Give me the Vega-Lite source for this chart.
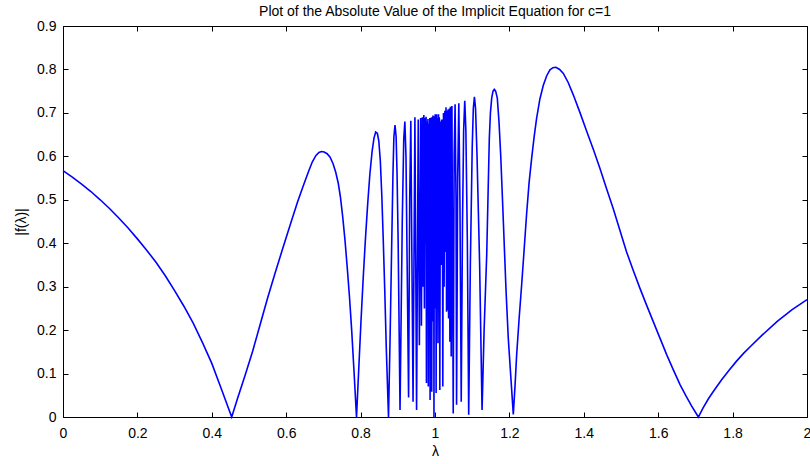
{
  "$schema": "https://vega.github.io/schema/vega-lite/v6.json",
  "width": 744,
  "height": 391,
  "autosize": {"type": "none"},
  "padding": {"left": 63, "top": 26, "right": 3, "bottom": 47},
  "background": "white",
  "title": {"text": "Plot of the Absolute Value of the Implicit Equation for c=1", "fontSize": 14, "fontWeight": "normal", "font": "Liberation Sans", "offset": 0, "color": "black", "anchor": "middle"},
  "data": {"values": [
    {"x": 0, "y": 0.567}, {"x": 0.025, "y": 0.552}, {"x": 0.05, "y": 0.536}, {"x": 0.075, "y": 0.519}, {"x": 0.1, "y": 0.5},
    {"x": 0.125, "y": 0.48}, {"x": 0.15, "y": 0.458}, {"x": 0.175, "y": 0.435}, {"x": 0.2, "y": 0.41}, {"x": 0.225, "y": 0.384},
    {"x": 0.25, "y": 0.356}, {"x": 0.275, "y": 0.325}, {"x": 0.3, "y": 0.291}, {"x": 0.325, "y": 0.255}, {"x": 0.35, "y": 0.216},
    {"x": 0.375, "y": 0.171}, {"x": 0.4, "y": 0.1235}, {"x": 0.425, "y": 0.066}, {"x": 0.4535, "y": 0},
    {"x": 0.47, "y": 0.045}, {"x": 0.49, "y": 0.097}, {"x": 0.51, "y": 0.152}, {"x": 0.53, "y": 0.213}, {"x": 0.55, "y": 0.274},
    {"x": 0.57, "y": 0.331}, {"x": 0.59, "y": 0.386}, {"x": 0.61, "y": 0.44}, {"x": 0.63, "y": 0.494}, {"x": 0.645, "y": 0.53},
    {"x": 0.66, "y": 0.565}, {"x": 0.67, "y": 0.587}, {"x": 0.68, "y": 0.602}, {"x": 0.688, "y": 0.609}, {"x": 0.695, "y": 0.611},
    {"x": 0.702, "y": 0.61}, {"x": 0.71, "y": 0.606}, {"x": 0.718, "y": 0.598}, {"x": 0.726, "y": 0.583}, {"x": 0.733, "y": 0.564},
    {"x": 0.74, "y": 0.538}, {"x": 0.746, "y": 0.505}, {"x": 0.752, "y": 0.46}, {"x": 0.758, "y": 0.407}, {"x": 0.764, "y": 0.345},
    {"x": 0.77, "y": 0.278}, {"x": 0.776, "y": 0.2}, {"x": 0.782, "y": 0.11}, {"x": 0.789, "y": 0},
    {"x": 0.795, "y": 0.11}, {"x": 0.801, "y": 0.22}, {"x": 0.807, "y": 0.32}, {"x": 0.813, "y": 0.41}, {"x": 0.819, "y": 0.49},
    {"x": 0.825, "y": 0.56}, {"x": 0.831, "y": 0.612}, {"x": 0.836, "y": 0.642}, {"x": 0.8405, "y": 0.656}, {"x": 0.845, "y": 0.653},
    {"x": 0.849, "y": 0.635}, {"x": 0.853, "y": 0.59}, {"x": 0.857, "y": 0.51}, {"x": 0.861, "y": 0.405}, {"x": 0.865, "y": 0.29},
    {"x": 0.869, "y": 0.16}, {"x": 0.875, "y": 0},
    {"x": 0.879, "y": 0.17}, {"x": 0.8835, "y": 0.392}, {"x": 0.887, "y": 0.56}, {"x": 0.8895, "y": 0.645}, {"x": 0.8925, "y": 0.672},
    {"x": 0.8955, "y": 0.645}, {"x": 0.898, "y": 0.56}, {"x": 0.901, "y": 0.4}, {"x": 0.906, "y": 0.016},
    {"x": 0.912, "y": 0.45}, {"x": 0.916, "y": 0.64}, {"x": 0.919, "y": 0.68},
    {"x": 0.922, "y": 0.6}, {"x": 0.929, "y": 0.045}, {"x": 0.932, "y": 0.5}, {"x": 0.935, "y": 0.682}, {"x": 0.941, "y": 0.035},
    {"x": 0.946, "y": 0.69}, {"x": 0.9505, "y": 0.016}, {"x": 0.955, "y": 0.685}, {"x": 0.958, "y": 0.165}, {"x": 0.9615, "y": 0.688},
    {"x": 0.9635, "y": 0.21}, {"x": 0.966, "y": 0.69}, {"x": 0.968, "y": 0.3}, {"x": 0.97, "y": 0.695}, {"x": 0.9715, "y": 0.25},
    {"x": 0.973, "y": 0.688}, {"x": 0.9745, "y": 0.4}, {"x": 0.976, "y": 0.691}, {"x": 0.977, "y": 0.078}, {"x": 0.9785, "y": 0.68},
    {"x": 0.9795, "y": 0.377}, {"x": 0.981, "y": 0.686}, {"x": 0.982, "y": 0.07}, {"x": 0.9835, "y": 0.675}, {"x": 0.9848, "y": 0.32},
    {"x": 0.986, "y": 0.688}, {"x": 0.9868, "y": 0.039}, {"x": 0.988, "y": 0.688}, {"x": 0.9893, "y": 0.28}, {"x": 0.9905, "y": 0.69},
    {"x": 0.9912, "y": 0.058}, {"x": 0.9925, "y": 0.682}, {"x": 0.9935, "y": 0.35}, {"x": 0.9945, "y": 0.694}, {"x": 0.9955, "y": 0.22},
    {"x": 0.9965, "y": 0.69}, {"x": 0.9972, "y": 0}, {"x": 0.9985, "y": 0.692}, {"x": 0.9995, "y": 0.3}, {"x": 1.0005, "y": 0.697},
    {"x": 1.0013, "y": 0.25}, {"x": 1.002, "y": 0.69}, {"x": 1.003, "y": 0.055}, {"x": 1.0045, "y": 0.697}, {"x": 1.0055, "y": 0.33},
    {"x": 1.0068, "y": 0.688}, {"x": 1.008, "y": 0.17}, {"x": 1.0095, "y": 0.697}, {"x": 1.0105, "y": 0.4}, {"x": 1.0115, "y": 0.69},
    {"x": 1.013, "y": 0.062}, {"x": 1.0145, "y": 0.68}, {"x": 1.016, "y": 0.35}, {"x": 1.0175, "y": 0.685}, {"x": 1.0185, "y": 0.388},
    {"x": 1.0195, "y": 0.685}, {"x": 1.021, "y": 0.07}, {"x": 1.0228, "y": 0.7}, {"x": 1.0245, "y": 0.3}, {"x": 1.0265, "y": 0.705},
    {"x": 1.028, "y": 0.38}, {"x": 1.0296, "y": 0.713}, {"x": 1.031, "y": 0.242}, {"x": 1.0325, "y": 0.705}, {"x": 1.0335, "y": 0.246},
    {"x": 1.035, "y": 0.708}, {"x": 1.0365, "y": 0.227}, {"x": 1.0385, "y": 0.71}, {"x": 1.04, "y": 0.173}, {"x": 1.0415, "y": 0.714},
    {"x": 1.0435, "y": 0.139}, {"x": 1.0455, "y": 0.716}, {"x": 1.049, "y": 0.008}, {"x": 1.0515, "y": 0.6}, {"x": 1.054, "y": 0.72},
    {"x": 1.0565, "y": 0.5}, {"x": 1.058, "y": 0.028}, {"x": 1.061, "y": 0.55}, {"x": 1.064, "y": 0.722}, {"x": 1.067, "y": 0.5},
    {"x": 1.0705, "y": 0.035}, {"x": 1.074, "y": 0.45}, {"x": 1.077, "y": 0.66}, {"x": 1.08, "y": 0.728}, {"x": 1.083, "y": 0.66},
    {"x": 1.087, "y": 0.4}, {"x": 1.0906, "y": 0.005}, {"x": 1.095, "y": 0.35}, {"x": 1.1, "y": 0.62}, {"x": 1.103, "y": 0.71},
    {"x": 1.106, "y": 0.737}, {"x": 1.109, "y": 0.71}, {"x": 1.113, "y": 0.6}, {"x": 1.12, "y": 0.35}, {"x": 1.1265, "y": 0.016},
    {"x": 1.132, "y": 0.2}, {"x": 1.139, "y": 0.373}, {"x": 1.146, "y": 0.641}, {"x": 1.149, "y": 0.7}, {"x": 1.1524, "y": 0.734},
    {"x": 1.156, "y": 0.75}, {"x": 1.1594, "y": 0.754}, {"x": 1.163, "y": 0.75}, {"x": 1.1675, "y": 0.734}, {"x": 1.172, "y": 0.68},
    {"x": 1.1766, "y": 0.603}, {"x": 1.181, "y": 0.51}, {"x": 1.1855, "y": 0.411}, {"x": 1.191, "y": 0.29}, {"x": 1.197, "y": 0.181},
    {"x": 1.204, "y": 0.09}, {"x": 1.2105, "y": 0.006},
    {"x": 1.215, "y": 0.07}, {"x": 1.2195, "y": 0.143}, {"x": 1.226, "y": 0.225}, {"x": 1.233, "y": 0.305}, {"x": 1.24, "y": 0.39},
    {"x": 1.2465, "y": 0.47}, {"x": 1.253, "y": 0.54}, {"x": 1.26, "y": 0.597}, {"x": 1.2665, "y": 0.645}, {"x": 1.273, "y": 0.687},
    {"x": 1.282, "y": 0.732}, {"x": 1.291, "y": 0.763}, {"x": 1.3, "y": 0.785}, {"x": 1.309, "y": 0.799}, {"x": 1.317, "y": 0.804},
    {"x": 1.325, "y": 0.805}, {"x": 1.335, "y": 0.8}, {"x": 1.345, "y": 0.791}, {"x": 1.358, "y": 0.77}, {"x": 1.372, "y": 0.741},
    {"x": 1.39, "y": 0.7}, {"x": 1.408, "y": 0.657}, {"x": 1.426, "y": 0.615}, {"x": 1.4435, "y": 0.572}, {"x": 1.461, "y": 0.526},
    {"x": 1.479, "y": 0.48}, {"x": 1.497, "y": 0.43}, {"x": 1.515, "y": 0.38}, {"x": 1.533, "y": 0.337}, {"x": 1.551, "y": 0.296},
    {"x": 1.569, "y": 0.257}, {"x": 1.587, "y": 0.219}, {"x": 1.605, "y": 0.181}, {"x": 1.623, "y": 0.143}, {"x": 1.641, "y": 0.108},
    {"x": 1.659, "y": 0.074}, {"x": 1.675, "y": 0.048}, {"x": 1.69, "y": 0.025}, {"x": 1.708, "y": 0},
    {"x": 1.72, "y": 0.02}, {"x": 1.735, "y": 0.042}, {"x": 1.75, "y": 0.061}, {"x": 1.77, "y": 0.085}, {"x": 1.79, "y": 0.107},
    {"x": 1.81, "y": 0.128}, {"x": 1.83, "y": 0.147}, {"x": 1.85, "y": 0.164}, {"x": 1.88, "y": 0.189}, {"x": 1.92, "y": 0.22},
    {"x": 1.96, "y": 0.247}, {"x": 2, "y": 0.27}
  ]},
  "layer": [
    {
      "mark": {"type": "line", "color": "#0000ff", "strokeWidth": 1.6},
      "encoding": {
        "x": {"field": "x", "type": "quantitative", "scale": {"domain": [0, 2], "nice": false, "zero": false},
          "axis": {"orient": "bottom", "values": [0, 0.2, 0.4, 0.6, 0.8, 1, 1.2, 1.4, 1.6, 1.8, 2], "format": "~g", "title": "λ", "labelPadding": 14, "titlePadding": 4, "labelFlush": false}},
        "y": {"field": "y", "type": "quantitative", "scale": {"domain": [0, 0.9], "nice": false, "zero": false},
          "axis": {"orient": "left", "values": [0, 0.1, 0.2, 0.3, 0.4, 0.5, 0.6, 0.7, 0.8, 0.9], "format": "~g", "title": "|f(λ)|", "labelPadding": 12, "titlePadding": 8, "labelFlush": false}}
      }
    },
    {
      "mark": {"type": "line", "opacity": 0},
      "encoding": {
        "x": {"field": "x", "type": "quantitative", "scale": {"domain": [0, 2], "nice": false, "zero": false},
          "axis": {"orient": "top", "values": [0, 0.2, 0.4, 0.6, 0.8, 1, 1.2, 1.4, 1.6, 1.8, 2], "labels": false, "title": null}},
        "y": {"field": "y", "type": "quantitative", "scale": {"domain": [0, 0.9], "nice": false, "zero": false},
          "axis": {"orient": "right", "values": [0, 0.1, 0.2, 0.3, 0.4, 0.5, 0.6, 0.7, 0.8, 0.9], "labels": false, "title": null}}
      }
    }
  ],
  "resolve": {"axis": {"x": "independent", "y": "independent"}},
  "config": {
    "view": {"stroke": null},
    "axis": {
      "domainColor": "black", "tickColor": "black", "labelColor": "black", "titleColor": "black",
      "labelFont": "Liberation Sans", "titleFont": "Liberation Sans", "labelFontSize": 14, "titleFontSize": 14,
      "titleFontWeight": "normal", "tickSize": -5, "grid": false, "domainWidth": 1, "tickWidth": 1
    }
  }
}
